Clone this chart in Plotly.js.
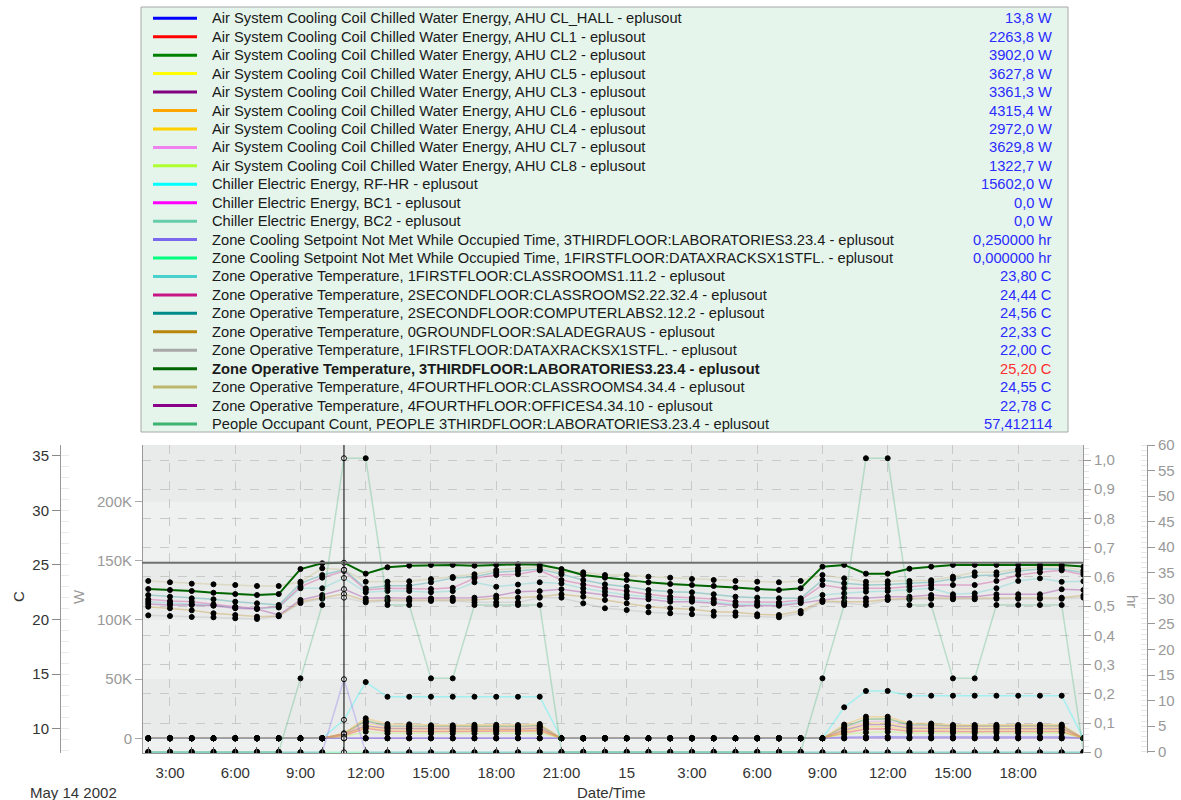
<!DOCTYPE html>
<html>
<head>
<meta charset="utf-8">
<script src="https://cdn.plot.ly/plotly-3.0.1.min.js"></script>
<style>html,body{margin:0;padding:0;background:#fff;}#chart{width:1181px;height:800px;}</style>
</head>
<body>
<div id="chart"></div>
<script>
// ---------------- DATA ----------------
// hours since 2002-05-14 00:00 (hourly, 02:00 May 14 .. 21:00 May 15)
const hours = [2,3,4,5,6,7,8,9,10,11,12,13,14,15,16,17,18,19,20,21,22,23,24,25,26,27,28,29,30,31,32,33,34,35,36,37,38,39,40,41,42,43,44,45];
const xTickVals = [3,6,9,12,15,18,21,24,27,30,33,36,39,42];
const xTickText = ['3:00','6:00','9:00','12:00','15:00','18:00','21:00','15','3:00','6:00','9:00','12:00','15:00','18:00'];
const cTicks = [10,15,20,25,30,35];
const wTickVals = [0,50000,100000,150000,200000];
const wTickText = ['0','50K','100K','150K','200K'];
const hrTickVals = [0,0.1,0.2,0.3,0.4,0.5,0.6,0.7,0.8,0.9,1.0];
const hrTickText = ['0','0,1','0,2','0,3','0,4','0,5','0,6','0,7','0,8','0,9','1,0'];
const cntTicks = [0,5,10,15,20,25,30,35,40,45,50,55,60];
const cursorHour = 11;

// Energy series [W]
const ahuHall = [0,0,0,0,0,0,0,0,0,13.8,200,150,150,150,150,150,150,150,150,0,0,0,0,0,0,0,0,0,0,0,0,0,900,1400,1400,1200,1200,1200,1200,1200,1200,1200,1200,0];
const ahuCL1  = [0,0,0,0,0,0,0,0,0,2263.8,8400,6000,6200,5800,5800,6000,6000,6100,6300,0,0,0,0,0,0,0,0,0,0,0,0,0,4500,7900,8000,6000,6000,5600,5600,5700,5600,5700,5800,0];
const ahuCL2  = [0,0,0,0,0,0,0,0,0,3902.0,14900,10500,10400,9800,9900,10200,10200,10000,10800,0,0,0,0,0,0,0,0,0,0,0,0,0,9800,16000,16500,11500,11300,10500,10400,10400,10500,10500,10600,0];
const ahuCL5  = [0,0,0,0,0,0,0,0,0,3627.8,12700,9000,9000,8500,8500,8600,8700,8800,9400,0,0,0,0,0,0,0,0,0,0,0,0,0,7900,13000,13000,9500,9500,9000,9000,9100,9000,9200,9300,0];
const ahuCL3  = [0,0,0,0,0,0,0,0,0,3361.3,10600,8200,8100,7600,7600,7800,7800,7700,8400,0,0,0,0,0,0,0,0,0,0,0,0,0,6800,11600,11600,8500,8500,8000,8000,8100,8000,8100,8200,0];
const ahuCL6  = [0,0,0,0,0,0,0,0,0,4315.4,16900,12100,11800,11000,11000,11400,11400,11200,12100,0,0,0,0,0,0,0,0,0,0,0,0,0,11600,18300,18300,12700,12500,11300,11300,11400,11300,11500,11600,0];
const ahuCL4  = [0,0,0,0,0,0,0,0,0,2972.0,9500,7000,7000,6600,6600,6800,6800,6700,7300,0,0,0,0,0,0,0,0,0,0,0,0,0,5600,9800,10000,7300,7200,7000,7000,7000,7000,7100,7200,0];
const ahuCL7  = [0,0,0,0,0,0,0,0,0,3629.8,13500,9600,9500,9100,9100,9300,9300,9200,10000,0,0,0,0,0,0,0,0,0,0,0,0,0,8800,14000,14500,10500,10400,9800,9800,9900,9800,9900,10000,0];
const ahuCL8  = [0,0,0,0,0,0,0,0,0,1322.7,5600,4200,4200,4000,4000,4100,4100,4100,4500,0,0,0,0,0,0,0,0,0,0,0,0,0,3400,5000,5500,4500,4500,4500,4400,4500,4500,4600,4600,0];
const chillerRF = [0,0,0,0,0,0,0,0,0,15602.0,47500,35100,35100,35100,35100,35100,35100,35100,35100,0,0,0,0,0,0,0,0,0,0,0,0,0,26200,40000,40000,36000,36000,36000,36000,36000,36000,36000,36000,0];
const chillerBC1 = [0,0,0,0,0,0,0,0,0,0,0,0,0,0,0,0,0,0,0,0,0,0,0,0,0,0,0,0,0,0,0,0,0,0,0,0,0,0,0,0,0,0,0,0];
const chillerBC2 = [0,0,0,0,0,0,0,0,0,0,0,0,0,0,0,0,0,0,0,0,0,0,0,0,0,0,0,0,0,0,0,0,0,0,0,0,0,0,0,0,0,0,0,0];
// Setpoint not met [hr]
const spLab3 = [0,0,0,0,0,0,0,0,0,0.25,0,0,0,0,0,0,0,0,0,0,0,0,0,0,0,0,0,0,0,0,0,0,0,0,0,0,0,0,0,0,0,0,0,0];
const spData1 = [0,0,0,0,0,0,0,0,0,0,0,0,0,0,0,0,0,0,0,0,0,0,0,0,0,0,0,0,0,0,0,0,0,0,0,0,0,0,0,0,0,0,0,0];
// Zone operative temperatures [C]
const tClass1 = [21.63,21.48,21.39,21.30,21.10,21.00,21.10,22.86,22.86,23.80,22.49,22.61,22.61,22.50,22.60,23.41,23.00,23.20,23.41,23.30,22.86,22.55,22.24,22.09,21.88,21.79,21.63,21.39,21.39,21.39,21.63,22.24,22.40,22.55,22.60,22.70,22.86,22.31,22.40,22.86,23.53,23.77,23.45,23.50];
const tClass2 = [21.85,21.69,21.63,21.39,21.17,21.03,21.17,23.00,23.83,24.44,22.70,22.86,22.86,22.80,22.90,23.77,24.07,24.14,24.50,23.62,23.22,22.86,22.61,22.31,22.09,22.00,21.88,21.63,21.63,21.57,21.79,23.16,22.86,22.86,22.86,23.00,23.16,23.16,23.16,23.53,24.07,24.32,24.50,24.10];
const tComp2  = [22.24,22.09,21.94,21.85,21.63,21.48,21.33,23.31,24.07,24.56,22.86,23.10,23.10,23.40,23.80,23.92,24.32,24.44,24.62,24.14,23.62,23.22,23.00,22.70,22.55,22.49,22.31,22.09,22.00,21.94,21.94,23.62,23.31,23.16,23.20,23.31,23.40,23.71,24.01,24.07,24.44,24.62,24.62,24.30];
const tGround = [21.17,21.03,20.84,20.57,20.41,20.26,20.32,21.63,22.00,22.33,21.72,21.79,21.79,21.79,21.80,21.79,21.94,22.00,22.09,22.31,22.09,21.79,21.48,21.17,21.03,20.94,20.72,20.66,20.48,20.41,20.78,21.70,21.63,21.63,21.85,21.94,22.00,21.94,21.94,22.00,22.00,22.00,22.00,22.20];
const tData1  = [20.38,20.32,20.23,20.20,20.11,20.05,20.30,21.50,21.90,22.00,21.57,21.70,21.70,21.70,21.70,21.57,21.57,21.57,22.00,22.00,21.48,21.03,20.87,20.66,20.57,20.48,20.35,20.35,20.29,20.20,20.57,21.60,21.50,21.33,21.79,21.85,21.90,21.85,21.85,21.90,21.90,21.90,21.90,22.00];
const tLab3   = [22.79,22.70,22.61,22.45,22.33,22.24,22.33,24.62,25.15,25.20,24.20,24.78,24.93,24.99,25.00,24.93,25.00,25.05,25.02,24.62,24.07,23.83,23.62,23.40,23.25,23.16,23.07,22.92,22.80,22.70,22.86,24.84,25.00,24.20,24.20,24.65,24.84,25.00,25.00,25.00,25.00,25.00,25.00,24.84];
const tClass4 = [23.53,23.41,23.28,23.22,23.16,23.07,23.07,23.46,24.69,24.55,23.46,23.46,23.50,23.70,23.90,24.14,24.53,24.69,24.84,24.32,24.32,24.07,24.07,23.92,23.83,23.71,23.62,23.53,23.46,23.41,23.53,24.07,23.77,23.46,23.50,23.53,23.60,23.92,24.32,24.32,24.62,24.84,24.84,24.50];
const tOff4   = [21.42,21.33,21.33,21.26,21.03,20.96,20.41,21.79,22.24,22.78,21.94,22.00,21.94,21.94,22.00,22.00,22.18,22.55,22.60,22.77,22.50,22.24,22.00,21.85,21.63,21.63,21.48,21.26,21.26,21.26,21.50,21.79,22.00,21.94,22.09,22.09,22.24,22.09,22.09,22.31,22.31,22.31,22.77,22.70];
// People occupant count
const people = [0,0,0,0,0,0,0,14.35,28.7,57.412114,57.412114,28.7,28.7,14.35,14.35,28.7,28.7,28.7,28.7,0,0,0,0,0,0,0,0,0,0,0,0,14.35,28.7,57.412114,57.412114,28.7,28.7,14.35,14.35,28.7,28.7,28.7,28.7,0];

const seriesNames = [
 'Air System Cooling Coil Chilled Water Energy, AHU CL_HALL - eplusout',
 'Air System Cooling Coil Chilled Water Energy, AHU CL1 - eplusout',
 'Air System Cooling Coil Chilled Water Energy, AHU CL2 - eplusout',
 'Air System Cooling Coil Chilled Water Energy, AHU CL5 - eplusout',
 'Air System Cooling Coil Chilled Water Energy, AHU CL3 - eplusout',
 'Air System Cooling Coil Chilled Water Energy, AHU CL6 - eplusout',
 'Air System Cooling Coil Chilled Water Energy, AHU CL4 - eplusout',
 'Air System Cooling Coil Chilled Water Energy, AHU CL7 - eplusout',
 'Air System Cooling Coil Chilled Water Energy, AHU CL8 - eplusout',
 'Chiller Electric Energy, RF-HR - eplusout',
 'Chiller Electric Energy, BC1 - eplusout',
 'Chiller Electric Energy, BC2 - eplusout',
 'Zone Cooling Setpoint Not Met While Occupied Time, 3THIRDFLOOR:LABORATORIES3.23.4 - eplusout',
 'Zone Cooling Setpoint Not Met While Occupied Time, 1FIRSTFLOOR:DATAXRACKSX1STFL. - eplusout',
 'Zone Operative Temperature, 1FIRSTFLOOR:CLASSROOMS1.11.2 - eplusout',
 'Zone Operative Temperature, 2SECONDFLOOR:CLASSROOMS2.22.32.4 - eplusout',
 'Zone Operative Temperature, 2SECONDFLOOR:COMPUTERLABS2.12.2 - eplusout',
 'Zone Operative Temperature, 0GROUNDFLOOR:SALADEGRAUS - eplusout',
 'Zone Operative Temperature, 1FIRSTFLOOR:DATAXRACKSX1STFL. - eplusout',
 'Zone Operative Temperature, 3THIRDFLOOR:LABORATORIES3.23.4 - eplusout',
 'Zone Operative Temperature, 4FOURTHFLOOR:CLASSROOMS4.34.4 - eplusout',
 'Zone Operative Temperature, 4FOURTHFLOOR:OFFICES4.34.10 - eplusout',
 'People Occupant Count, PEOPLE 3THIRDFLOOR:LABORATORIES3.23.4 - eplusout'
];
const seriesColors = ['#0000ff','#ff0000','#008000','#ffff00','#800080','#ffa500','#ffd000','#ee82ee','#adff2f','#00ffff','#ff00ff','#66cdaa','#7b68ee','#00ff7f','#48d1cc','#c71585','#008b8b','#b8860b','#a9a9a9','#006400','#bdb76b','#8b008b','#3cb371'];
const seriesUnits = ['W','W','W','W','W','W','W','W','W','W','W','W','hr','hr','C','C','C','C','C','C','C','C',''];
const seriesData = [ahuHall,ahuCL1,ahuCL2,ahuCL5,ahuCL3,ahuCL6,ahuCL4,ahuCL7,ahuCL8,chillerRF,chillerBC1,chillerBC2,spLab3,spData1,tClass1,tClass2,tComp2,tGround,tData1,tLab3,tClass4,tOff4,people];
const selectedIndex = 19;

// ---------------- DRAW ----------------
const W = 1181, H = 800;
const PX = v => v / W, PY = v => 1 - v / H;
const axisOf = {W:'y2', hr:'y3', C:'y', '':'y4'};
const cursorIdx = hours.indexOf(cursorHour);

function rgba(hex, a){
  const n = parseInt(hex.slice(1),16);
  return 'rgba(' + ((n>>16)&255) + ',' + ((n>>8)&255) + ',' + (n&255) + ',' + a + ')';
}

const traces = [];
const order = seriesData.map((d,i)=>i).filter(i=>i!==selectedIndex).concat([selectedIndex]);
order.forEach(i => {
  const sel = i === selectedIndex;
  const mcol = hours.map((h,k) => k === cursorIdx ? '#ffffff' : '#000000');
  traces.push({
    x: hours, y: seriesData[i], type:'scatter', mode:'lines+markers',
    yaxis: axisOf[seriesUnits[i]], name: seriesNames[i], hoverinfo:'skip',
    line: {color: sel ? seriesColors[i] : rgba(seriesColors[i], 0.3), width: sel ? 2 : 1.5},
    marker: {size: 5, color: mcol, line: {color:'#000000', width: 1}},
    cliponaxis: true
  });
});

const shapes = [];
const annotations = [];
// background bands (aligned with W ticks)
[[-20000,0,'#eff0f0'],[0,50000,'#e9eaea'],[50000,100000,'#eff0f0'],[100000,150000,'#e9eaea'],[150000,200000,'#eff0f0'],[200000,260000,'#e9eaea']].forEach(b=>{
  shapes.push({type:'rect', layer:'below', xref:'x domain', yref:'y2', x0:0, x1:1, y0:b[0], y1:b[1], fillcolor:b[2], line:{width:0}});
});
// cursor
shapes.push({type:'line', xref:'x domain', yref:'y', x0:0, x1:1, y0:tLab3[cursorIdx], y1:tLab3[cursorIdx], line:{color:'#707070', width:2}});
shapes.push({type:'line', xref:'x', yref:'paper', x0:hours[cursorIdx], x1:hours[cursorIdx], y0:PY(753), y1:PY(445), line:{color:'#000000', width:1}});

// legend box
shapes.push({type:'rect', xref:'paper', yref:'paper', x0:PX(141), x1:PX(1068), y0:PY(432), y1:PY(7), fillcolor:'#e5f5ec', line:{color:'#a8a8a8', width:1}, layer:'below'});
function fmtVal(v, unit){
  let s;
  if (unit === 'W') s = v.toFixed(1) + ' W';
  else if (unit === 'hr') s = v.toFixed(6) + ' hr';
  else if (unit === 'C') s = v.toFixed(2) + ' C';
  else s = v.toFixed(6);
  return s.replace('.', ',');
}
seriesNames.forEach((nm,i)=>{
  const yc = 18.3 + i*18.44;
  const sel = i === selectedIndex;
  shapes.push({type:'line', xref:'paper', yref:'paper', x0:PX(153), x1:PX(197), y0:PY(yc), y1:PY(yc), line:{color:seriesColors[i], width:3}});
  annotations.push({xref:'paper', yref:'paper', x:PX(210), y:PY(yc), xanchor:'left', yanchor:'middle', showarrow:false,
    text: sel ? '<b>'+nm+'</b>' : nm, font:{size:14.7, color:'#1a1a1a', family:'Liberation Sans, Arial, sans-serif'}});
  annotations.push({xref:'paper', yref:'paper', x:PX(1054), y:PY(yc), xanchor:'right', yanchor:'middle', showarrow:false,
    text: fmtVal(seriesData[i][cursorIdx], seriesUnits[i]), font:{size:14.7, color: sel ? '#ff3030' : '#2b2bff', family:'Liberation Sans, Arial, sans-serif'}});
});

// axis titles and footer
annotations.push({xref:'paper', yref:'paper', x:PX(18), y:PY(597), text:'C', textangle:-90, showarrow:false, xanchor:'center', yanchor:'middle', font:{size:15, color:'#333'}});
annotations.push({xref:'paper', yref:'paper', x:PX(78), y:PY(597), text:'W', textangle:-90, showarrow:false, xanchor:'center', yanchor:'middle', font:{size:15, color:'#999'}});
annotations.push({xref:'paper', yref:'paper', x:PX(1133), y:PY(601), text:'hr', textangle:90, showarrow:false, xanchor:'center', yanchor:'middle', font:{size:15, color:'#999'}});
annotations.push({xref:'paper', yref:'paper', x:PX(28), y:PY(792), text:'May 14 2002', showarrow:false, xanchor:'left', yanchor:'middle', font:{size:15, color:'#333'}});
annotations.push({xref:'paper', yref:'paper', x:PX(611), y:PY(792), text:'Date/Time', showarrow:false, xanchor:'center', yanchor:'middle', font:{size:15, color:'#333'}});

const layout = {
  width: W, height: H, margin:{l:0, r:0, t:0, b:0},
  paper_bgcolor:'#ffffff', plot_bgcolor:'#eeefef',
  font:{family:'Liberation Sans, Arial, sans-serif', size:15, color:'#333'},
  showlegend:false,
  xaxis:{domain:[PX(142), PX(1083)], range:[1.713, 44.98], anchor:'y',
    tickvals:xTickVals, ticktext:xTickText, ticks:'inside', ticklen:6, tickcolor:'#555',
    showgrid:true, gridcolor:'#c9c9c9', griddash:'dash', gridwidth:1,
    showline:true, linecolor:'#999', linewidth:1, zeroline:false,
    tickfont:{size:15, color:'#333'}, ticklabelstandoff:6,
    minor:{dtick:1, ticks:'inside', ticklen:6, tickcolor:'#555', showgrid:false}},
  yaxis:{domain:[PY(753), PY(445)], anchor:'free', position:PX(60), range:[7.775, 35.98],
    tickvals:cTicks, ticks:'outside', ticklen:8, tickcolor:'#888', showline:true, linecolor:'#999',
    showgrid:false, zeroline:false, tickfont:{size:15, color:'#333'},
    minor:{dtick:1, ticks:'inside', ticklen:8, tickcolor:'#eaeaea', showgrid:false}},
  yaxis2:{overlaying:'y', anchor:'free', position:PX(142), side:'left', range:[-12400, 247700],
    tickvals:wTickVals, ticktext:wTickText, ticks:'outside', ticklen:7, tickcolor:'#aaa',
    showline:true, linecolor:'#999', showgrid:false, zeroline:false, tickfont:{size:15, color:'#999'}},
  yaxis3:{overlaying:'y', anchor:'free', position:PX(1083), side:'right', range:[-0.0024, 1.0513],
    tickvals:hrTickVals, ticktext:hrTickText, ticks:'outside', ticklen:7, tickcolor:'#999',
    showline:true, linecolor:'#999', showgrid:true, gridcolor:'#c9c9c9', griddash:'dash', zeroline:false,
    tickfont:{size:15, color:'#999'},
    minor:{dtick:0.02, ticks:'outside', ticklen:5, tickcolor:'#e6e6e6', showgrid:false}},
  yaxis4:{overlaying:'y', anchor:'free', position:PX(1147), side:'right', range:[-0.25, 60],
    tickvals:cntTicks, ticks:'outside', ticklen:7, tickcolor:'#999',
    showline:true, linecolor:'#999', showgrid:false, zeroline:false, tickfont:{size:15, color:'#999'},
    minor:{dtick:1, ticks:'inside', ticklen:6, tickcolor:'#e6e6e6', showgrid:false}},
  shapes: shapes, annotations: annotations
};

Plotly.newPlot('chart', traces, layout, {staticPlot:true, displayModeBar:false});
</script>
</body>
</html>
